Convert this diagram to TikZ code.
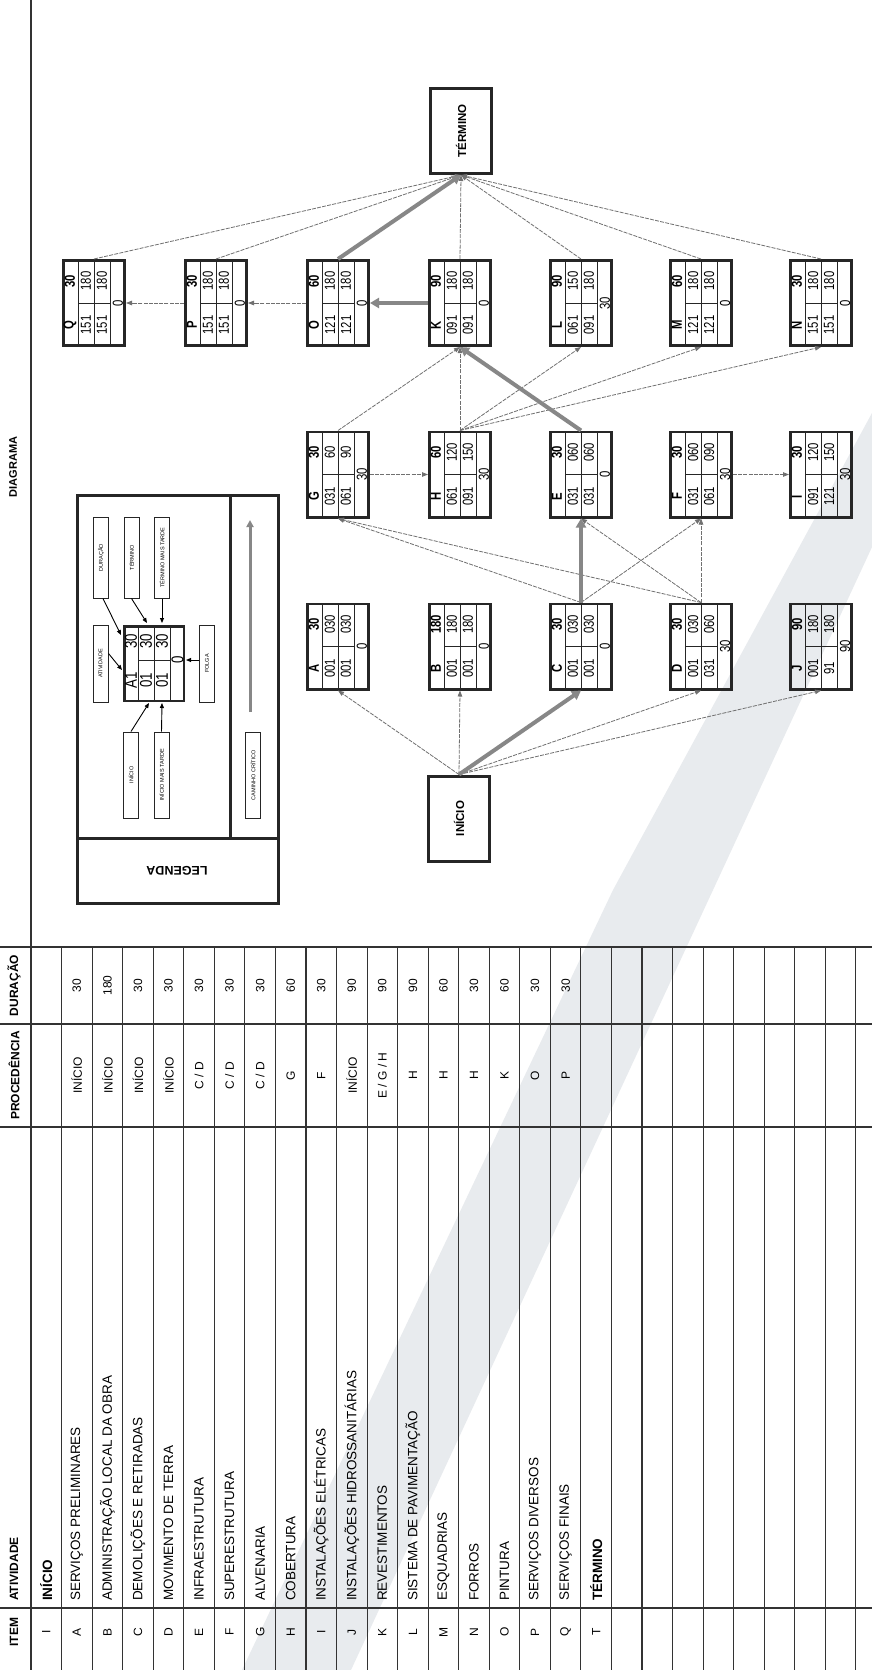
\documentclass[tikz,border=0pt]{standalone}
\usepackage{fontspec}
\usepackage{graphicx}
\setmainfont{Liberation Sans}
\newfontfamily\narrowfont[FakeStretch=0.78]{Liberation Sans}
\usetikzlibrary{arrows.meta,calc}
\definecolor{wmgray}{RGB}{232,235,238}
\definecolor{linegray}{RGB}{112,112,112}
\definecolor{critgray}{RGB}{135,135,135}
\newcommand\actnode[9]{%
  \node[actbox] (#1) at (#2) {};
  \draw[cell] ($(#1)+(-16,-43)$) -- ($(#1)+(-16,43)$);
  \draw[cell] ($(#1)+(0,-43)$) -- ($(#1)+(0,43)$);
  \draw[cell] ($(#1)+(16,-43)$) -- ($(#1)+(16,43)$);
  \draw[cell] ($(#1)+(-16,0)$) -- ($(#1)+(16,0)$);
  \node[boldtxt] (#1-a) at ($(#1)+(-24,22)$) {#3};
  \node[boldtxt] (#1-d) at ($(#1)+(-24,-22)$) {#4};
  \node[numtxt] (#1-es) at ($(#1)+(-8,22)$) {#5};
  \node[numtxt] (#1-ef) at ($(#1)+(-8,-22)$) {#6};
  \node[numtxt] (#1-ls) at ($(#1)+(8,22)$) {#7};
  \node[numtxt] (#1-lf) at ($(#1)+(8,-22)$) {#8};
  \node[numtxt] (#1-fl) at ($(#1)+(24,0)$) {#9};
}
\begin{document}
\begin{tikzpicture}[x=1pt,y=-1pt,
  actbox/.style={draw=black!85,line width=2.8pt,minimum width=61.2pt,minimum height=85.2pt,inner sep=0pt},
  endbox/.style={draw=black!85,line width=3pt,minimum width=61pt,minimum height=85pt,inner sep=0pt,font=\bfseries\fontsize{11.5}{12}\selectfont},
  cell/.style={draw=black!85,line width=1pt},
  numtxt/.style={rotate=90,inner sep=0pt,font=\narrowfont\fontsize{14.5}{14.5}\selectfont},
  boldtxt/.style={rotate=90,inner sep=0pt,font=\narrowfont\bfseries\fontsize{14.5}{14.5}\selectfont},
  legnum/.style={rotate=90,inner sep=0pt,font=\narrowfont\fontsize{17}{17}\selectfont},
  thinarr/.style={draw=linegray,line width=0.8pt,dash pattern=on 4pt off 1.2pt,-{Triangle[length=6pt,width=4.5pt]}},
  critarr/.style={draw=critgray,line width=4pt,-{Triangle[length=9pt,width=10pt]}},
  legarr/.style={draw=black,line width=0.9pt,-{Triangle[length=5pt,width=4pt]}},
  legbox/.style={draw=black!85,line width=1pt,minimum width=15pt,inner sep=0pt,font=\fontsize{5.5}{6}\selectfont},
  frame/.style={draw=black!85,line width=3pt},
  tabline/.style={draw=black!80,line width=1.1pt},
  hdr/.style={rotate=90,inner sep=0pt,font=\bfseries\fontsize{12}{12}\selectfont},
  tabtxt/.style={rotate=90,inner sep=0pt,font=\fontsize{12}{12}\selectfont},
  nametxt/.style={rotate=90,inner sep=0pt,anchor=west,font=\fontsize{13.5}{14}\selectfont}
]
\useasboundingbox (0,0) rectangle (872,1670);
\fill[white] (0,0) rectangle (872,1670);
% watermark band
\fill[wmgray] (613,890) -- (713,890) -- (872,547) -- (872,413) -- cycle;
\fill[wmgray] (613,890) -- (713,890) -- (351,1670) -- (242,1670) -- cycle;

% ---------- table ----------
\draw[tabline] (31,0) -- (31,1670);
\foreach \yy in {947,1024,1127,1608} \draw[tabline] (0,\yy) -- (872,\yy);
\foreach \k in {1,...,27} \draw[tabline] ({31+30.55*\k},947) -- ({31+30.55*\k},1670);

\node[hdr,font=\bfseries\fontsize{11}{11}\selectfont] (hDia) at (13,467) {DIAGRAMA};
\node[hdr] (hDur) at (14,985.5) {DURAÇÃO};
\node[hdr] (hPro) at (14,1075.5) {PROCEDÊNCIA};
\node[hdr,anchor=west] (hAti) at (14,1601) {ATIVIDADE};
\node[hdr] (hItem) at (14,1632) {ITEM};

\foreach \k/\itm/\anm/\apr/\adu in {
 0/I/\textbf{INÍCIO}/{}/{},
 1/A/SERVIÇOS PRELIMINARES/INÍCIO/30,
 2/B/ADMINISTRAÇÃO LOCAL DA OBRA/INÍCIO/180,
 3/C/DEMOLIÇÕES E RETIRADAS/INÍCIO/30,
 4/D/MOVIMENTO DE TERRA/INÍCIO/30,
 5/E/INFRAESTRUTURA/{C / D}/30,
 6/F/SUPERESTRUTURA/{C / D}/30,
 7/G/ALVENARIA/{C / D}/30,
 8/H/COBERTURA/G/60,
 9/I/INSTALAÇÕES ELÉTRICAS/F/30,
 10/J/INSTALAÇÕES HIDROSSANITÁRIAS/INÍCIO/90,
 11/K/REVESTIMENTOS/{E / G / H}/90,
 12/L/SISTEMA DE PAVIMENTAÇÃO/H/90,
 13/M/ESQUADRIAS/H/60,
 14/N/FORROS/H/30,
 15/O/PINTURA/K/60,
 16/P/SERVIÇOS DIVERSOS/O/30,
 17/Q/SERVIÇOS FINAIS/P/30,
 18/T/\textbf{TÉRMINO}/{}/{}}{
  \pgfmathsetmacro\rx{31+30.55*(\k+0.5)}
  \node[tabtxt] (du\k) at (\rx,985.5) {\adu};
  \node[tabtxt] (pr\k) at (\rx,1075.5) {\apr};
  \node[nametxt] (nm\k) at (\rx,1601) {\anm};
  \node[tabtxt] (it\k) at (\rx,1632) {\itm};
}

% ---------- legend ----------
\draw[frame] (77,495) rectangle (278,903);
\draw[frame] (77,838) -- (278,838);
\draw[frame] (230,495) -- (230,838);
\node[rotate=180,inner sep=0pt,font=\bfseries\fontsize{12.5}{13}\selectfont] (legtitle) at (177,871) {LEGENDA};

\node[draw=black!85,line width=2.5pt,minimum width=59.5pt,minimum height=74.5pt,inner sep=0pt] (LN) at (154,663.5) {};
\draw[cell] ($(LN)+(-16,-37)$) -- ($(LN)+(-16,37)$);
\draw[cell] ($(LN)+(0,-37)$) -- ($(LN)+(0,37)$);
\draw[cell] ($(LN)+(16,-37)$) -- ($(LN)+(16,37)$);
\draw[cell] ($(LN)+(-16,-3.5)$) -- ($(LN)+(16,-3.5)$);
\node[legnum] (LN-a) at ($(LN)+(-23,16.5)$) {A1};
\node[legnum] (LN-d) at ($(LN)+(-23,-22.5)$) {30};
\node[legnum] (LN-es) at ($(LN)+(-8,16.5)$) {01};
\node[legnum] (LN-ef) at ($(LN)+(-8,-22.5)$) {30};
\node[legnum] (LN-ls) at ($(LN)+(8,16.5)$) {01};
\node[legnum] (LN-lf) at ($(LN)+(8,-22.5)$) {30};
\node[legnum] (LN-fl) at ($(LN)+(23.5,-3.5)$) {0};

\node[legbox,minimum height=81pt] (lDur) at (101,557.5) {\rotatebox{90}{DURAÇÃO}};
\node[legbox,minimum height=81pt] (lTer) at (131.5,557.5) {\rotatebox{90}{TÉRMINO}};
\node[legbox,minimum height=81pt] (lTmt) at (162,557.5) {\rotatebox{90}{TÉRMINO MAIS TARDE}};
\node[legbox,minimum height=77pt] (lAti) at (100.5,663.5) {\rotatebox{90}{ATIVIDADE}};
\node[legbox,minimum height=77pt] (lFol) at (207,663.5) {\rotatebox{90}{FOLGA}};
\node[legbox,minimum height=86pt] (lIni) at (131,775) {\rotatebox{90}{INÍCIO}};
\node[legbox,minimum height=86pt] (lImt) at (161.5,775) {\rotatebox{90}{INÍCIO MAIS TARDE}};
\node[legbox,minimum height=86pt] (lCam) at (253,775) {\rotatebox{90}{CAMINHO CRÍTICO}};

\coordinate (tDur) at (121,635);
\coordinate (tTer) at (147,623);
\coordinate (tTmt) at (162,623);
\coordinate (tAti) at (122,670);
\coordinate (tFol) at (186,660);
\coordinate (tIni) at (149,703);
\coordinate (tImt) at (162,703);
\coordinate (cpS) at (250,712);
\coordinate (cpE) at (250,520);
\draw[legarr] ([xshift=2pt]lDur.south) -- (tDur);
\draw[legarr] (lTer.south) -- (tTer);
\draw[legarr] (lTmt.south) -- (tTmt);
\draw[legarr] ([yshift=10pt]lAti.east) -- (tAti);
\draw[legarr] ([yshift=3.5pt]lFol.west) -- (tFol);
\draw[legarr] (lIni.north) -- (tIni);
\draw[legarr] (lImt.north) -- (tImt);
\draw[draw=critgray,line width=3pt,-{Triangle[length=7pt,width=7pt]}] (cpS) -- (cpE);

% ---------- diagram ----------
\node[endbox] (TER) at (461,131) {\rotatebox{90}{TÉRMINO}};
\node[endbox] (INI) at (459,818.5) {\rotatebox{90}{INÍCIO}};

\actnode{Q}{94,303}{Q}{30}{151}{180}{151}{180}{0}
\actnode{P}{216,303}{P}{30}{151}{180}{151}{180}{0}
\actnode{O}{338,303}{O}{60}{121}{180}{121}{180}{0}
\actnode{K}{460,303}{K}{90}{091}{180}{091}{180}{0}
\actnode{L}{581,303}{L}{90}{061}{150}{091}{180}{30}
\actnode{M}{701,303}{M}{60}{121}{180}{121}{180}{0}
\actnode{N}{821,303}{N}{30}{151}{180}{151}{180}{0}
\actnode{G}{338,474.5}{G}{30}{031}{60}{061}{90}{30}
\actnode{H}{460,474.5}{H}{60}{061}{120}{091}{150}{30}
\actnode{E}{581,474.5}{E}{30}{031}{060}{031}{060}{0}
\actnode{F}{701,474.5}{F}{30}{031}{060}{061}{090}{30}
\actnode{I}{821,474.5}{I}{30}{091}{120}{121}{150}{30}
\actnode{A}{338,646.5}{A}{30}{001}{030}{001}{030}{0}
\actnode{B}{460,646.5}{B}{180}{001}{180}{001}{180}{0}
\actnode{C}{581,646.5}{C}{30}{001}{030}{001}{030}{0}
\actnode{D}{701,646.5}{D}{30}{001}{030}{031}{060}{30}
\actnode{J}{821,646.5}{J}{90}{001}{180}{91}{180}{90}

% thin connectors
\draw[thinarr] (INI.north) -- (A.south);
\draw[thinarr] (INI.north) -- (B.south);
\draw[thinarr] (INI.north) -- (D.south);
\draw[thinarr] (INI.north) -- (J.south);
\draw[thinarr] (C.north) -- (F.south);
\draw[thinarr] (C.north) -- (G.south);
\draw[thinarr] (D.north) -- (E.south);
\draw[thinarr] (D.north) -- (F.south);
\draw[thinarr] (D.north) -- (G.south);
\draw[thinarr] (G.east) -- (H.west);
\draw[thinarr] (F.east) -- (I.west);
\draw[thinarr] (G.north) -- (K.south);
\draw[thinarr] (H.north) -- (K.south);
\draw[thinarr] (H.north) -- (L.south);
\draw[thinarr] (H.north) -- (M.south);
\draw[thinarr] (H.north) -- (N.south);
\draw[thinarr] (O.west) -- (P.east);
\draw[thinarr] (P.west) -- (Q.east);
\draw[thinarr] (Q.north) -- (TER.south);
\draw[thinarr] (P.north) -- (TER.south);
\draw[thinarr] (K.north) -- (TER.south);
\draw[thinarr] (L.north) -- (TER.south);
\draw[thinarr] (M.north) -- (TER.south);
\draw[thinarr] (N.north) -- (TER.south);
% critical path
\draw[critarr] (INI.north) -- (C.south);
\draw[critarr] (C.north) -- (E.south);
\draw[critarr] (E.north) -- (K.south);
\draw[critarr] (K.west) -- (O.east);
\draw[critarr] (O.north) -- (TER.south);
\end{tikzpicture}
\end{document}
